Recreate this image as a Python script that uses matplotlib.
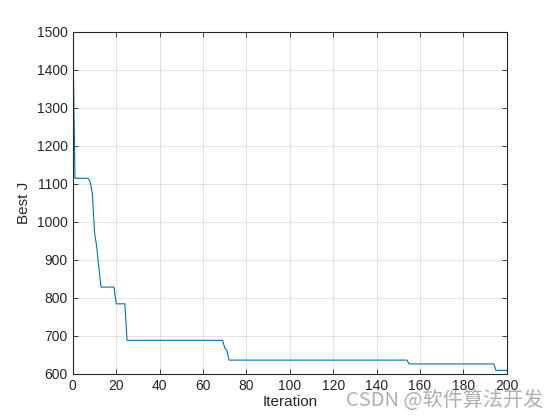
import matplotlib
matplotlib.use('Agg')
import matplotlib.pyplot as plt

# best J at the iterations where it changes
iters = [0, 1, 7, 8, 9, 10, 11, 12, 13, 19, 20, 24, 25, 69, 70, 71, 72, 154, 155, 194, 195, 200]
best_j = [1500, 1114, 1114, 1105, 1075, 972, 935, 880, 828, 828, 784, 784, 688, 688, 668, 662, 636, 636, 626, 626, 609, 609]

xticks = list(range(0, 201, 20))
yticks = list(range(600, 1501, 100))

plt.rcParams['font.family'] = ['Liberation Sans', 'DejaVu Sans']

fig = plt.figure(figsize=(5.6, 4.2), dpi=100)
ax = fig.add_axes([0.13, 0.11, 0.775, 0.815])
ax.plot(iters, best_j, color='#0072BD', linewidth=0.8)

ax.set_xlim(0, 200)
ax.set_ylim(600, 1500)
ax.set_xticks(xticks)
ax.set_yticks(yticks)
ax.grid(True, color='#262626', alpha=0.15, linewidth=0.6)
ax.tick_params(direction='in', top=True, right=True, labelsize=10, colors='#262626',
               length=3.5, width=0.6)
for s in ax.spines.values():
    s.set_color('#262626')
    s.set_linewidth(0.8)
ax.set_xlabel('Iteration', fontsize=11, color='#262626', labelpad=2)
ax.set_ylabel('Best J', fontsize=11, color='#262626', labelpad=4)

fig.text(0.97, 0.022, 'CSDN @软件算法开发', ha='right', va='bottom', fontsize=14.5,
         color='#a8a8a8', family=['Noto Sans CJK SC', 'DejaVu Sans'], alpha=0.9)

fig.savefig('out.png', dpi=100)
